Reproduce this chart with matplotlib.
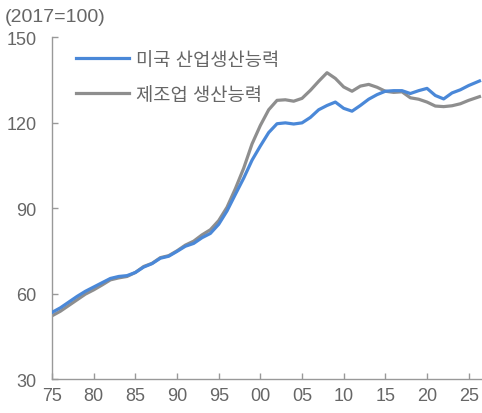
import numpy as np
import matplotlib
matplotlib.use("Agg")
import matplotlib.pyplot as plt

plt.rcParams["font.family"] = ["Liberation Sans", "Noto Sans CJK KR", "DejaVu Sans"]

years = [1975, 1976, 1977, 1978, 1979, 1980, 1981, 1982, 1983, 1984,
         1985, 1986, 1987, 1988, 1989, 1990, 1991, 1992, 1993, 1994,
         1995, 1996, 1997, 1998, 1999, 2000, 2001, 2002, 2003, 2004,
         2005, 2006, 2007, 2008, 2009, 2010, 2011, 2012, 2013, 2014,
         2015, 2016, 2017, 2018, 2019, 2020, 2021, 2022, 2023, 2024,
         2025, 2026.3]

# 미국 산업생산능력
industry = [53.4, 55.0, 57.0, 59.0, 60.8, 62.3, 63.8, 65.3, 66.0, 66.3,
            67.4, 69.3, 70.5, 72.4, 73.1, 74.8, 76.6, 77.6, 79.6, 81.1,
            84.3, 89.0, 94.8, 100.5, 106.8, 111.8, 116.5, 119.6, 119.9, 119.5,
            119.9, 121.8, 124.5, 126.0, 127.2, 125.0, 124.0, 126.0, 128.2, 129.8,
            131.0, 131.2, 131.2, 130.2, 131.2, 132.0, 129.5, 128.3, 130.4, 131.5,
            133.0, 134.6]

# 제조업 생산능력
manufacturing = [52.2, 53.8, 55.8, 57.8, 59.8, 61.3, 63.0, 64.8, 65.5, 66.0,
                 67.4, 69.5, 70.6, 72.6, 73.3, 75.0, 77.0, 78.4, 80.6, 82.4,
                 85.6, 90.3, 96.8, 104.0, 112.5, 119.0, 124.5, 127.8, 128.0, 127.5,
                 128.5, 131.3, 134.5, 137.5, 135.5, 132.5, 131.0, 132.8, 133.4, 132.4,
                 131.0, 130.6, 130.8, 128.7, 128.2, 127.2, 125.8, 125.6, 125.9, 126.6,
                 127.8, 129.1]

xticks = [1975, 1980, 1985, 1990, 1995, 2000, 2005, 2010, 2015, 2020, 2025]
xticklabels = ["75", "80", "85", "90", "95", "00", "05", "10", "15", "20", "25"]
yticks = [30, 60, 90, 120, 150]

BLUE = "#4a88d8"
GRAY = "#8e8e8e"
TXT = "#666666"

fig = plt.figure(figsize=(4.82, 4.14), dpi=100)
ax = fig.add_axes([0.108, 0.082, 0.892, 0.826])

ax.plot(years, manufacturing, color=GRAY, linewidth=2.3, label="제조업 생산능력", zorder=2)
ax.plot(years, industry, color=BLUE, linewidth=2.3, label="미국 산업생산능력", zorder=3)

ax.set_xlim(1975, 2026.6)
ax.set_ylim(30, 150)
ax.set_xticks(xticks)
ax.set_xticklabels(xticklabels)
ax.set_yticks(yticks)

for side in ["top", "right"]:
    ax.spines[side].set_visible(False)
for side in ["left", "bottom"]:
    ax.spines[side].set_color("#999999")
    ax.spines[side].set_linewidth(1.0)
ax.tick_params(direction="in", length=4, width=1.0, color="#999999",
               labelcolor=TXT, labelsize=13)
ax.tick_params(axis="y", pad=11)
ax.tick_params(axis="x", pad=6)

handles, labels = ax.get_legend_handles_labels()
ax.legend(handles[::-1], labels[::-1], loc="upper left",
          bbox_to_anchor=(0.056, 0.957), frameon=False, fontsize=13.5,
          handlelength=2.8, handletextpad=0.4, labelspacing=0.95,
          borderpad=0, borderaxespad=0, labelcolor=TXT)

fig.text(0.01, 0.958, "(2017=100)", fontsize=14, color=TXT, va="center", ha="left")

fig.savefig("out.png", dpi=100)
